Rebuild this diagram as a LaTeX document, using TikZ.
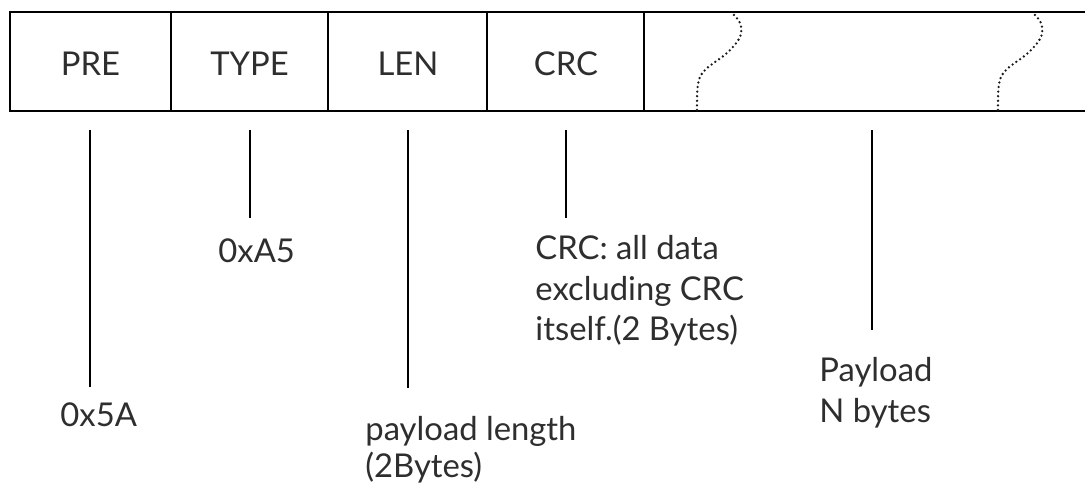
\documentclass[tikz,border=0pt]{standalone}
\usepackage{fontspec}
\setmainfont{Lato}
\begin{document}
\begin{tikzpicture}[x=0.5pt,y=-0.5pt,
  frame/.style={line width=1.4pt, draw=black},
  lead/.style={line width=1.35pt, draw=black},
  txt/.style={inner sep=0pt, font=\fontsize{16.4}{20}\selectfont, text=black!82},
  field/.style={txt, anchor=base},
  lbl/.style={txt, anchor=base west},
  wave/.style={line width=1.3pt, draw=black!90, line cap=round, dash pattern=on 0pt off 2.3pt}]
\useasboundingbox (0,0) rectangle (1085,487);
% frame
\draw[frame] (1085,12) -- (10,12) -- (10,111) -- (1085,111);
\foreach \x in {171,328,487,644} \draw[frame] (\x,12) -- (\x,111);
% wavy break marks
\foreach \dx in {0,301} {
  \begin{scope}[shift={(\dx,0)}]
    \draw[wave] plot[smooth, tension=0.6] coordinates {(697,110) (698,84) (705,70) (727,53) (740,37) (740,23) (731,12)};
  \end{scope}
}
% field names
\node[field] (pre)  at (90.5,75)  {PRE};
\node[field] (type) at (249.5,75) {TYPE};
\node[field] (len)  at (408,75)   {LEN};
\node[field] (crc)  at (566,75)   {CRC};
% leader coordinates
\coordinate (preT) at (90,130);   \coordinate (preB) at (90,387);
\coordinate (typeT) at (250,130); \coordinate (typeB) at (250,218);
\coordinate (lenT) at (408,130);  \coordinate (lenB) at (408,388);
\coordinate (crcT) at (566,130);  \coordinate (crcB) at (566,218);
\coordinate (payT) at (872,130);  \coordinate (payB) at (872,330);
\draw[lead] (preT) -- (preB);
\draw[lead] (typeT) -- (typeB);
\draw[lead] (lenT) -- (lenB);
\draw[lead] (crcT) -- (crcB);
\draw[lead] (payT) -- (payB);
% labels
\node[lbl] (v5a) at (60,426) {0x5A};
\node[lbl] (va5) at (218,262) {0xA5};
\node[lbl] (pl1) at (365,440) {payload length};
\node[lbl] (pl2) at (365,477) {(2Bytes)};
\node[lbl] (c1) at (535,259) {CRC: all data};
\node[lbl] (c2) at (535,300) {excluding CRC};
\node[lbl] (c3) at (535,340) {itself.(2 Bytes)};
\node[lbl] (p1) at (819,381) {Payload};
\node[lbl] (p2) at (819,422) {N bytes};
\end{tikzpicture}
\end{document}
